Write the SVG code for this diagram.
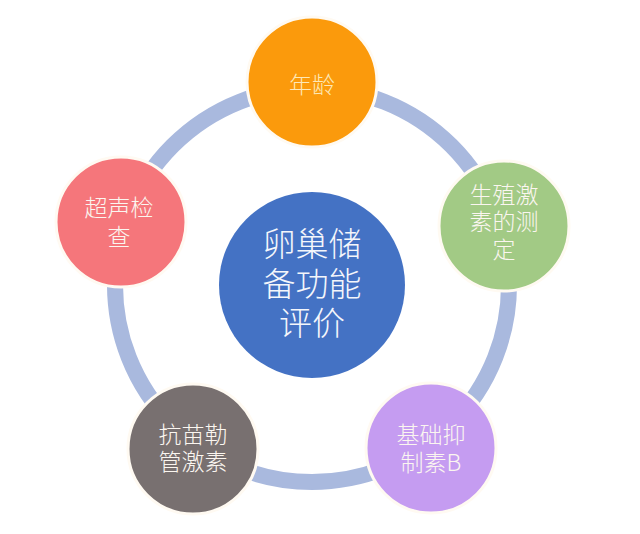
<svg xmlns="http://www.w3.org/2000/svg" width="640" height="534" viewBox="0 0 640 534">
<style>
  .node { stroke: #fffaf2; stroke-width: 3; }
  .lbl { font-family: "Noto Sans CJK SC", "Noto Sans", sans-serif; font-size: 23px; font-weight: 300; fill: #fbf6f0; text-anchor: middle; }
  .big { font-family: "Noto Sans CJK SC", "Noto Sans", sans-serif; font-size: 33px; font-weight: 300; fill: #f4f6fb; text-anchor: middle; }
</style>
<rect width="640" height="534" fill="#ffffff"/>
<g id="connectors">
  <circle cx="312" cy="285" r="197" fill="none" stroke="#a9b9de" stroke-width="16"/>
</g>
<g id="center">
  <circle cx="312" cy="285" r="93" fill="#4472c4"/>
  <text class="big" x="312" y="256"><tspan x="312" y="256">卵巢储</tspan><tspan x="312" y="296">备功能</tspan><tspan x="312" y="335">评价</tspan></text>
</g>
<g id="age">
  <circle class="node" cx="312" cy="82" r="65" fill="#fb9a0c"/>
  <text class="lbl" x="312" y="93" style="fill:#fde8b8">年龄</text>
</g>
<g id="hormone">
  <circle class="node" cx="504" cy="226" r="65" fill="#a2ca85"/>
  <text class="lbl" x="504" y="203"><tspan x="504" y="203">生殖激</tspan><tspan x="504" y="230">素的测</tspan><tspan x="504" y="258">定</tspan></text>
</g>
<g id="inhibin">
  <circle class="node" cx="431" cy="448" r="65" fill="#c59cf1"/>
  <text class="lbl" x="431" y="443"><tspan x="431" y="443">基础抑</tspan><tspan x="431" y="471">制素B</tspan></text>
</g>
<g id="amh">
  <circle class="node" cx="193" cy="449" r="65" fill="#787070"/>
  <text class="lbl" x="193" y="443"><tspan x="193" y="443">抗苗勒</tspan><tspan x="193" y="470">管激素</tspan></text>
</g>
<g id="ultrasound">
  <circle class="node" cx="121" cy="222" r="65" fill="#f5767b"/>
  <text class="lbl" x="119" y="216"><tspan x="119" y="216">超声检</tspan><tspan x="119" y="245">查</tspan></text>
</g>
</svg>
